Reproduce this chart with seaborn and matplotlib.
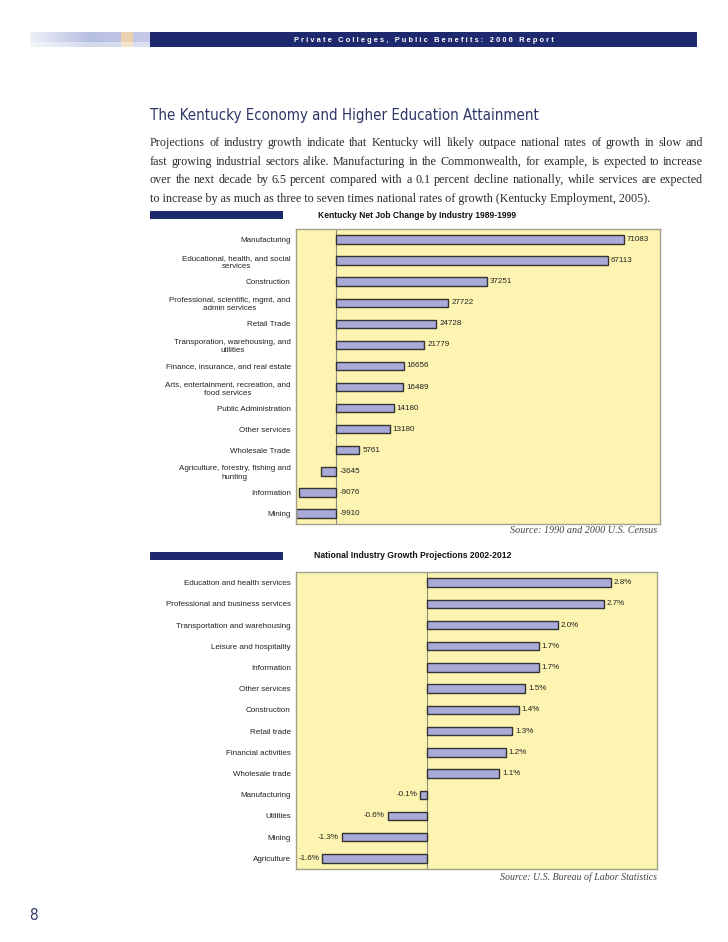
import numpy as np
import matplotlib
matplotlib.use("Agg")
import matplotlib.pyplot as plt
from matplotlib.patches import Rectangle
from matplotlib.colors import to_rgb
import seaborn as sns

# --- data -----------------------------------------------------------------
ky_industries = [
    "Manufacturing",
    "Educational, health, and social\nservices",
    "Construction",
    "Professional, scientific, mgmt, and\nadmin services",
    "Retail Trade",
    "Transporation, warehousing, and\nutilities",
    "Finance, insurance, and real estate",
    "Arts, entertainment, recreation, and\nfood services",
    "Public Administration",
    "Other services",
    "Wholesale Trade",
    "Agriculture, forestry, fishing and\nhunting",
    "Information",
    "Mining",
]
ky_change = [71083, 67113, 37251, 27722, 24728, 21779, 16656, 16489,
             14180, 13180, 5761, -3645, -9076, -9910]

us_industries = [
    "Education and health services",
    "Professional and business services",
    "Transportation and warehousing",
    "Leisure and hospitality",
    "Information",
    "Other services",
    "Construction",
    "Retail trade",
    "Financial activities",
    "Wholesale trade",
    "Manufacturing",
    "Utilities",
    "Mining",
    "Agriculture",
]
us_growth = [2.8, 2.7, 2.0, 1.7, 1.7, 1.5, 1.4, 1.3, 1.2, 1.1,
             -0.1, -0.6, -1.3, -1.6]

header_text = "Private Colleges, Public Benefits: 2006 Report"
page_title = "The Kentucky Economy and Higher Education Attainment"
body_lines = [
    "Projections of industry growth indicate that Kentucky will likely outpace national rates of growth in slow and",
    "fast growing industrial sectors alike. Manufacturing in the Commonwealth, for example, is expected to increase",
    "over the next decade by 6.5 percent compared with a 0.1 percent decline nationally, while services are expected",
    "to increase by as much as three to seven times national rates of growth (Kentucky Employment, 2005).",
]
chart1_title = "Kentucky Net Job Change by Industry 1989-1999"
chart2_title = "National Industry Growth Projections 2002-2012"
source1 = "Source: 1990 and 2000 U.S. Census"
source2 = "Source: U.S. Bureau of Labor Statistics"

# --- style ----------------------------------------------------------------
NAVY = "#1f2a6e"
TITLE_COL = "#2e3868"
BAR = "#aaaad8"
EDGE = "#333333"
FACE = "#fcf4b0"
SPINE = "#a3a08a"

sns.set_style("white")
plt.rcParams["font.family"] = ["Liberation Sans", "DejaVu Sans"]

W, H = 728, 942
fig = plt.figure(figsize=(W / 100, H / 100), dpi=100)
r = fig.canvas.get_renderer()


def ptext(x, y, s, **kw):
    return fig.text(x / W, 1 - y / H, s, **kw)


def fit(t, width_px):
    w = t.get_window_extent(r).width
    t.set_fontsize(t.get_fontsize() * width_px / w)
    return t


# header band
fig.add_artist(Rectangle((150 / W, 1 - 47 / H), (697 - 150) / W, 15 / H,
                         transform=fig.transFigure, color=NAVY, lw=0))
gax = fig.add_axes([30 / W, 1 - 47 / H, 120 / W, 15 / H])
xs = np.linspace(0, 1, 120)
white, lav, peach, blue = [np.array(to_rgb(c)) for c in
                           ("#eef0f8", "#b7bfe2", "#ecd2b0", "#c6cbe8")]
row = []
for v in xs:
    if v < 0.5:
        c = white + (lav - white) * (v / 0.5)
    elif 0.76 < v < 0.86:
        c = peach
    else:
        c = lav + (blue - lav) * ((v - 0.5) / 0.5)
    row.append(c)
grad = np.array([row] * 15)
grad[10:] = grad[10:] * 0.6 + 0.4
gax.imshow(grad, aspect="auto")
gax.axis("off")

spaced = "   ".join(" ".join(w) for w in header_text.split(" "))
fit(ptext(424, 40, spaced, color="white", fontweight="bold",
          ha="center", va="center", fontsize=6), 262)

# page title and body
ptext(150, 120, page_title, color=TITLE_COL, fontsize=13,
      family=["Liberation Sans Narrow", "DejaVu Sans"], fontstretch="condensed")
fit(fig.texts[-1], 388)

body_kw = dict(color="#2a2a2a", family=["Liberation Serif", "DejaVu Serif"])
probe = fit(ptext(150, 202, body_lines[3], fontsize=10, **body_kw), 498)
body_size = probe.get_fontsize()
for i, line in enumerate(body_lines[:3]):
    y = 146 + 18.7 * i
    words = line.split(" ")
    texts = [ptext(0, y, w, fontsize=body_size, **body_kw) for w in words]
    widths = [t.get_window_extent(r).width for t in texts]
    gap = (703 - 150 - sum(widths)) / (len(words) - 1)
    x = 150
    for t, wd in zip(texts, widths):
        t.set_x(x / W)
        x += wd + gap

# chart title bars
for yb in (211, 552):
    fig.add_artist(Rectangle((150 / W, 1 - (yb + 8) / H), 133 / W, 8 / H,
                             transform=fig.transFigure, color=NAVY, lw=0))
fit(ptext(417, 217.5, chart1_title, fontweight="bold", ha="center",
          fontsize=7, color="#111111"), 198)
fit(ptext(412.5, 558.5, chart2_title, fontweight="bold", ha="center",
          fontsize=7, color="#111111"), 197)

src_kw = dict(style="italic", color="#444444", ha="right", fontsize=7,
              family=["Liberation Serif", "DejaVu Serif"])
fit(ptext(657, 533, source1, **src_kw), 147)
fit(ptext(657, 880, source2, **src_kw), 157)
ptext(33, 920, "8", color=TITLE_COL, ha="center", fontsize=11,
      family=["Liberation Sans Narrow", "DejaVu Sans"],
      fontstretch="condensed")


def style_axes(ax, xlim):
    ax.set_facecolor(FACE)
    ax.set_xlim(*xlim)
    ax.set_ylim(13.5, -0.5)
    ax.set_xticks([])
    ax.set_xlabel("")
    ax.set_ylabel("")
    ax.axvline(0, color="#8a8a80", lw=0.8, zorder=1)
    ax.tick_params(axis="y", length=0, pad=3.6, labelsize=5.8,
                   labelcolor="#222222")
    for lab in ax.get_yticklabels():
        lab.set_multialignment("center")
        lab.set_linespacing(1.3)
    for s in ax.spines.values():
        s.set_visible(True)
        s.set_color(SPINE)
        s.set_linewidth(1)


# chart 1
ax1 = fig.add_axes([295.7 / W, 1 - 524 / H, (660 - 295.7) / W, 295 / H])
sns.barplot(x=ky_change, y=ky_industries, orient="h", color=BAR,
            saturation=1, edgecolor=EDGE, linewidth=1, width=0.4, ax=ax1,
            zorder=2)
style_axes(ax1, (-10000, 80000))
for i, v in enumerate(ky_change):
    ax1.annotate(f"{v}", xy=(max(v, 0), i), xytext=(2.2, 0),
                 textcoords="offset points", va="center", ha="left",
                 fontsize=5.8, color="#222222")

# chart 2
ax2 = fig.add_axes([295.7 / W, 1 - 869 / H, (656.7 - 295.7) / W, 297 / H])
sns.barplot(x=us_growth, y=us_industries, orient="h", color=BAR,
            saturation=1, edgecolor=EDGE, linewidth=1, width=0.4, ax=ax2,
            zorder=2)
style_axes(ax2, (-2, 3.5))
ax2.bar_label(ax2.containers[0], labels=[f"{v:.1f}%" for v in us_growth],
              padding=2, fontsize=5.8, color="#222222")

fig.savefig("out.png", dpi=100)
